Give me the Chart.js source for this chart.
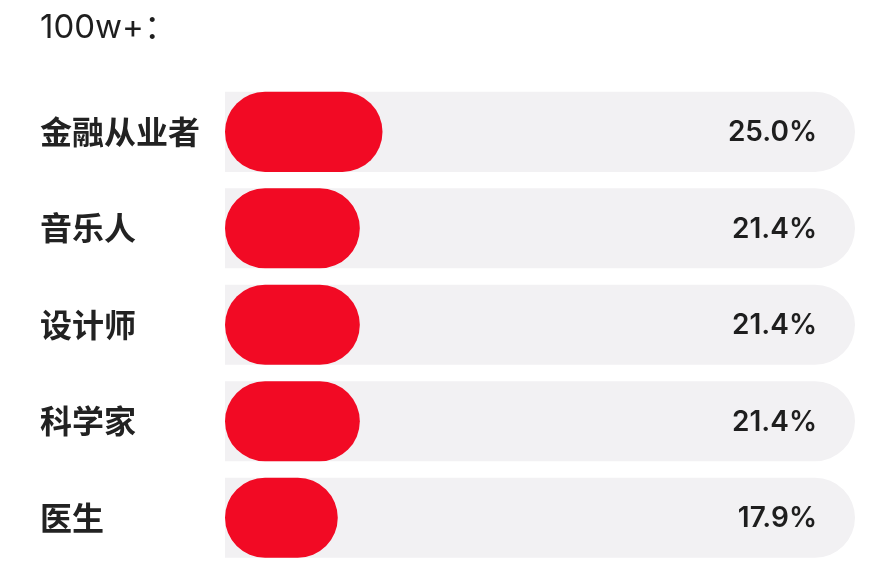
<!DOCTYPE html>
<html>
<head>
<meta charset="utf-8">
<script src="https://cdn.jsdelivr.net/npm/chart.js@4/dist/chart.umd.min.js"></script>
<style>
  html, body { margin: 0; padding: 0; background: #fff; }
  #wrap { width: 876px; height: 576px; }
</style>
</head>
<body>
<div id="wrap"><canvas id="chart"></canvas></div>
<script>
// data
const title = "100w+：";
const jobs = ["金融从业者", "音乐人", "设计师", "科学家", "医生"];
const shares = [25.0, 21.4, 21.4, 21.4, 17.9];
const track = [100, 100, 100, 100, 100];

const RED = "#f20a24";
const GREY = "#f2f1f3";

// percentage text sits inside the grey track, right aligned
const valueLabels = {
  id: "valueLabels",
  afterDatasetsDraw(chart) {
    const ctx = chart.ctx
    const x = chart.scales.x
    const y = chart.scales.y
    ctx.save()
    ctx.fillStyle = "#1e1e1e"
    ctx.font = "600 28px Inter, 'Noto Sans', sans-serif"
    ctx.textAlign = "right"
    ctx.textBaseline = "middle"
    shares.forEach((v, i) => {
      ctx.fillText(v.toFixed(1) + "%", x.getPixelForValue(100) - 38, y.getPixelForValue(i) + 1)
    })
    ctx.restore()
  }
}

new Chart(document.getElementById("chart"), {
  type: "bar",
  data: {
    labels: jobs,
    datasets: [
      {
        label: "share",
        data: shares,
        backgroundColor: RED,
        borderSkipped: false,
        borderRadius: 40,
        order: 0
      },
      {
        label: "track",
        data: track,
        backgroundColor: GREY,
        borderSkipped: "start",
        borderRadius: { topLeft: 0, bottomLeft: 0, topRight: 40, bottomRight: 40 },
        order: 1
      }
    ]
  },
  options: {
    indexAxis: "y",
    responsive: true,
    maintainAspectRatio: false,
    animation: false,
    grouped: false,
    categoryPercentage: 1,
    barPercentage: 0.83,
    layout: { padding: { top: 8, left: 40, right: 21, bottom: 10 } },
    plugins: {
      legend: { display: false },
      tooltip: { enabled: false },
      title: {
        display: true,
        text: title,
        align: "start",
        color: "#1e1e1e",
        font: { family: "Inter, 'Noto Sans CJK SC', sans-serif", size: 33, weight: "normal" },
        padding: { top: 0, bottom: 36 }
      }
    },
    scales: {
      x: {
        min: 0,
        max: 100,
        display: false,
        grid: { display: false }
      },
      y: {
        grid: { display: false },
        border: { display: false },
        afterFit(scale) {
          scale.width = 185
          // labels sit in the middle of each band, no extra room needed
          scale.paddingTop = 0
          scale.paddingBottom = 0
        },
        ticks: {
          crossAlign: "far",
          padding: 0,
          color: "#222",
          font: { family: "'Noto Sans CJK SC', sans-serif", size: 32, weight: "bold" }
        }
      }
    }
  },
  plugins: [valueLabels]
})
</script>
</body>
</html>
